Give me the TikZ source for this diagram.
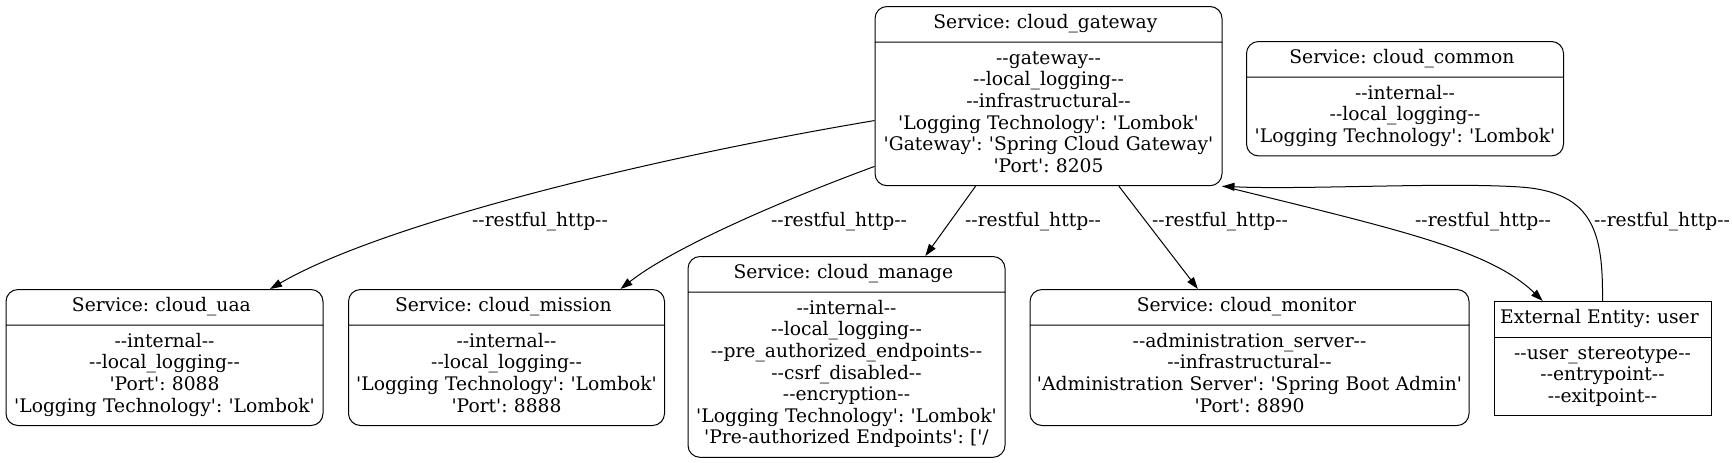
\documentclass[tikz,border=0pt]{standalone}
\usepackage{fontspec}
\newfontfamily\dfdfont{DejaVu Serif}[Ligatures=TeXOff]
\usetikzlibrary{shapes.multipart,arrows.meta}
\setlength{\parindent}{0pt}
\frenchspacing

\begin{document}
\begin{tikzpicture}
  [x=0.5pt,y=-0.5pt,
   every node/.style={font=\dfdfont\fontsize{9.35}{10.8}\selectfont},
   service/.style={rectangle split,rectangle split parts=2,draw,line width=0.5pt,
     rounded corners=6pt,align=center,text width=#1,inner xsep=2pt,inner ysep=3.25pt,
     anchor=north,execute at begin node=\strut,execute at end node=\strut},
   entity/.style={service=#1,sharp corners},
   flow/.style={line width=0.5pt,-{Triangle[length=6pt,width=4pt]}}]
  \useasboundingbox (0,0) rectangle (1732,462);

  \node[service=169.5pt] (gateway) at (1048.5,6) {Service: cloud\_gateway
    \nodepart{two}--gateway--\\--local\_logging--\\--infrastructural--\\
    'Logging Technology': 'Lombok'\\'Gateway': 'Spring Cloud Gateway'\\'Port': 8205};
  \node[service=154.5pt] (common) at (1405,41) {Service: cloud\_common
    \nodepart{two}--internal--\\--local\_logging--\\'Logging Technology': 'Lombok'};
  \node[service=154.5pt] (uaa) at (164.5,289) {Service: cloud\_uaa
    \nodepart{two}--internal--\\--local\_logging--\\'Port': 8088\\'Logging Technology': 'Lombok'};
  \node[service=154pt] (mission) at (506.5,289) {Service: cloud\_mission
    \nodepart{two}--internal--\\--local\_logging--\\'Logging Technology': 'Lombok'\\'Port': 8888};
  \node[service=154.5pt] (manage) at (846.5,256) {Service: cloud\_manage
    \nodepart{two}--internal--\\--local\_logging--\\--pre\_authorized\_endpoints--\\
    --csrf\_disabled--\\--encryption--\\'Logging Technology': 'Lombok'\\
    'Pre-authorized Endpoints': ['/};
  \node[service=215.5pt] (monitor) at (1249.5,289) {Service: cloud\_monitor
    \nodepart{two}--administration\_server--\\--infrastructural--\\
    'Administration Server': 'Spring Boot Admin'\\'Port': 8890};
  \node[entity=104.5pt] (user) at (1602.5,301) {External Entity: user
    \nodepart{two}--user\_stereotype--\\--entrypoint--\\--exitpoint--};

  \node (luaa) at (540,222) {--restful\_http--};
  \node (lmission) at (839,222) {--restful\_http--};
  \node (lmanage) at (1033,222) {--restful\_http--};
  \node (lmonitor) at (1220,222) {--restful\_http--};
  \node (luser) at (1483,222) {--restful\_http--};
  \node (lgateway) at (1662,222) {--restful\_http--};

  \draw[flow] (gateway.188.3) .. controls (640,160) and (380,225) .. (uaa.33.6);
  \draw[flow] (gateway.202.6) .. controls (770,205) and (670,250) .. (mission.31.5);
  \foreach \from/\to in {gateway.231.9/manage.52.3,gateway.-52.3/monitor.127.3}
    \draw[flow] (\from) -- (\to);
  \draw[flow] (gateway.south east) .. controls (1400,230) and (1490,250) .. (user.136);
  \draw[flow] (user.north) .. controls (1603,235) and (1595,192) .. (1520,187)
    .. controls (1445,182) and (1300,190) .. (gateway.south east);
\end{tikzpicture}
\end{document}
